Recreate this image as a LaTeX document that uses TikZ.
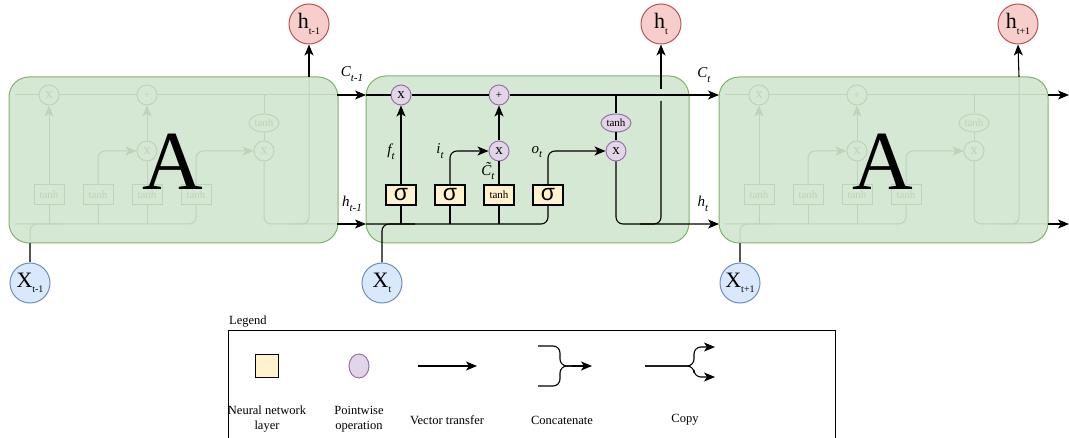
\documentclass[tikz,border=0pt]{standalone}
\usepackage{fontspec}
\setmainfont{Liberation Serif}
\newfontfamily\sigfont{Liberation Sans}
\usetikzlibrary{arrows.meta,shapes.geometric}
\definecolor{gfill}{HTML}{D5E8D4}
\definecolor{gdraw}{HTML}{82B366}
\definecolor{rfill}{HTML}{F8CECC}
\definecolor{rdraw}{HTML}{B85450}
\definecolor{bfill}{HTML}{DAE8FC}
\definecolor{bdraw}{HTML}{6C8EBF}
\definecolor{pfill}{HTML}{E1D5E7}
\definecolor{pdraw}{HTML}{9673A6}
\definecolor{yfill}{HTML}{FFF2CC}
\definecolor{faintc}{HTML}{BDD3BA}
\definecolor{darkg}{HTML}{555555}
\newcommand\fs[1]{\fontsize{#1}{#1}\selectfont}
\newcommand\bigsub[2]{#1\raisebox{-0.25em}{\fs{10}#2}}
\newcommand\lsub[2]{#1\raisebox{-0.3em}{\fs{11}#2}}
\tikzset{
  cellbox/.style={draw=gdraw, fill=gfill, rounded corners=20, line width=1},
  hcirc/.style={circle, draw=rdraw, fill=rfill, minimum size=40, inner sep=0, line width=1, font=\fs{22}},
  xcirc/.style={circle, draw=bdraw, fill=bfill, minimum size=40, inner sep=0, line width=1, font=\fs{22}},
  pw/.style={circle, draw=pdraw, fill=pfill, minimum size=20, inner sep=0, line width=1, font=\fs{15}},
  pwell/.style={ellipse, draw=pdraw, fill=pfill, minimum width=30, minimum height=18, inner sep=0, line width=1, font=\fs{11}},
  layer/.style={draw=black, fill=yfill, minimum width=30, minimum height=20, inner sep=0, line width=1.1},
  sig/.style={layer, font=\sigfont\fs{23}},
  tlayer/.style={layer, font=\fs{11}},
  flow/.style={line width=1.1, -{Stealth[length=11,width=9,inset=3]}},
  wire/.style={line width=1.1},
  fwire/.style={line width=1, draw=faintc},
  fflow/.style={fwire, -{Stealth[length=11,width=9,inset=3]}},
  fpw/.style={circle, draw=faintc, minimum size=20, inner sep=0, line width=1, text=faintc, font=\fs{15}},
  fell/.style={ellipse, draw=faintc, minimum width=30, minimum height=18, inner sep=0, line width=1, text=faintc, font=\fs{11}},
  flayer/.style={draw=faintc, minimum width=30, minimum height=20, inner sep=0, line width=1, text=faintc, font=\fs{11}},
  lbl/.style={font=\fs{15}\itshape, inner sep=0},
  leg/.style={font=\fs{12.5}, align=center, inner sep=0},
}
\newcommand\fadedcell[2]{%
\begin{scope}[shift={(#1,0)}]
  \draw[cellbox] (361,77) rectangle (690,243);
  \node[fpw] (#2fx) at (401,95) {x};
  \node[fpw, font=\fs{11}] (#2plus) at (499,95) {+};
  \node[flayer] (#2t1) at (401,195) {tanh};
  \node[flayer] (#2t2) at (450,195) {tanh};
  \node[flayer] (#2t3) at (499,195) {tanh};
  \node[flayer] (#2t4) at (548,195) {tanh};
  \node[fpw] (#2ix) at (499,151) {x};
  \node[fpw] (#2ox) at (616,151) {x};
  \node[fell] (#2th) at (616,123) {tanh};
  \coordinate (#2cin) at (367,95);
  \coordinate (#2cout) at (690,95);
  \coordinate (#2hin) at (367,224);
  \coordinate (#2hout) at (690,224);
  \coordinate (#2ctap) at (616,95);
  \coordinate (#2vtop) at (661,77);
  \coordinate (#2vbot) at (640,224);
  \coordinate (#2xbot) at (382,243);
  \coordinate (#2xjoin) at (415,224);
  \draw[fwire] (#2cin) -- (#2fx.west) (#2fx.east) -- (#2plus.west) (#2plus.east) -- (#2cout);
  \draw[fflow] (#2t1.north) -- (#2fx.south);
  \draw[fflow, rounded corners=7] (#2t2.north) |- (#2ix.west);
  \draw[fwire] (#2t3.north) -- (#2ix.south);
  \draw[fflow] (#2ix.north) -- (#2plus.south);
  \draw[fflow, rounded corners=7] (#2t4.north) |- (#2ox.west);
  \draw[fwire] (#2ctap) -- (#2th.north) (#2th.south) -- (#2ox.north);
  \draw[fwire, rounded corners=7] (#2ox.south) |- (#2hout);
  \draw[fwire, rounded corners=7] (#2vbot) -| (#2vtop);
  \draw[fwire, rounded corners=7] (#2hin) -| (#2t4.south);
  \draw[fwire] (#2t1.south) -- (401,224) (#2t2.south) -- (450,224) (#2t3.south) -- (499,224);
  \draw[fwire, rounded corners=7] (#2xbot) |- (#2xjoin);
  \node[font=\fs{84}, inner sep=0] (#2A) at (525,162) {A};
\end{scope}}
\begin{document}
\begin{tikzpicture}[x=1pt,y=-1pt]
\useasboundingbox (0,0) rectangle (1069,438);
% faded cells
\fadedcell{-352}{L}
\fadedcell{358}{R}
% middle cell
\draw[cellbox] (366,76) rectangle (689,243);
\node[pw] (fx) at (401,95) {x};
\node[pw, font=\fs{11}] (plus) at (499,95) {+};
\node[sig] (s1) at (401,195) {σ};
\node[sig] (s2) at (450,195) {σ};
\node[tlayer] (s3) at (499,195) {tanh};
\node[sig] (s4) at (548,195) {σ};
\node[pw] (ix) at (499,151) {x};
\node[pw] (ox) at (616,151) {x};
\node[pwell] (th) at (616,123) {tanh};
% outer nodes
\node[hcirc] (hL) at (309,24) {\bigsub{h}{t-1}};
\node[hcirc] (hM) at (661,24) {\bigsub{h}{t}};
\node[hcirc] (hR) at (1018,24) {\bigsub{h}{t+1}};
\node[xcirc] (xL) at (30,283) {\bigsub{X}{t-1}};
\node[xcirc] (xM) at (382,283) {\bigsub{X}{t}};
\node[xcirc] (xR) at (740,283) {\bigsub{X}{t+1}};
% coordinates
\coordinate (Lc) at (337,95);
\coordinate (Lh) at (337,224);
\coordinate (Mcin) at (366,95);
\coordinate (Mhin) at (366,224);
\coordinate (Mcout) at (719,95);
\coordinate (Mhout) at (719,224);
\coordinate (Rc) at (1048,95);
\coordinate (Rh) at (1048,224);
\coordinate (Rcend) at (1069,95);
\coordinate (Rhend) at (1069,224);
\coordinate (ctap) at (616,95);
\coordinate (vbot) at (640,224);
\coordinate (vlow) at (661,101);
\coordinate (vhigh) at (661,89);
\coordinate (xjoin) at (415,224);
% links between cells
\draw[flow] (Lc) -- (Mcin);
\draw[flow] (Lh) -- (Mhin);
\draw[flow] (Rc) -- (Rcend);
\draw[flow] (Rh) -- (Rhend);
\draw[flow] (Lvtop) -- (hL.south);
\draw[flow] (Rvtop) -- (hR.south);
\draw[wire, darkg] (xL.north) -- (Lxbot);
\draw[wire, darkg] (xR.north) -- (Rxbot);
% middle wiring
\draw[wire] (Mcin) -- (fx.west) (fx.east) -- (plus.west);
\draw[flow] (plus.east) -- (Mcout);
\draw[flow] (s1.north) -- (fx.south);
\draw[flow, rounded corners=7] (s2.north) |- (ix.west);
\draw[wire] (s3.north) -- (ix.south);
\draw[flow] (ix.north) -- (plus.south);
\draw[flow, rounded corners=7] (s4.north) |- (ox.west);
\draw[wire] (ctap) -- (th.north) (th.south) -- (ox.north);
\draw[flow, rounded corners=7] (ox.south) |- (Mhout);
\draw[wire, rounded corners=7] (vbot) -| (vlow);
\draw[flow] (vhigh) -- (hM.south);
\draw[wire, rounded corners=7] (Mhin) -| (s4.south);
\draw[wire] (s1.south) -- (401,224) (s2.south) -- (450,224) (s3.south) -- (499,224);
\draw[wire, rounded corners=7] (xM.north) |- (xjoin);
% labels
\node[lbl] (lCt1) at (352,74) {\lsub{C}{t-1}};
\node[lbl] (lht1) at (352,204) {\lsub{h}{t-1}};
\node[lbl] (lCt) at (704,75) {\lsub{C}{t}};
\node[lbl] (lht) at (703,204) {\lsub{h}{t}};
\node[lbl] (lf) at (391,152) {\lsub{f}{t}};
\node[lbl] (li) at (440,151) {\lsub{i}{t}};
\node[lbl] (lC) at (488,171) {\lsub{\~{C}}{t}};
\node[lbl] (lo) at (537,152) {\lsub{o}{t}};
% legend
\node[anchor=west, font=\fs{12.5}, inner sep=0] (legt) at (229,322) {Legend};
\draw[line width=1] (228,440) -- (228,331) -- (835,331) -- (835,440);
\node[layer, minimum width=23, minimum height=23] (lglayer) at (267,366) {};
\node[pwell, minimum width=20, minimum height=24] (lgpw) at (359,366) {};
\coordinate (va) at (418,366);
\coordinate (vb) at (477,366);
\draw[flow] (va) -- (vb);
\coordinate (ca) at (538,346);
\coordinate (cb) at (538,386);
\coordinate (cm) at (560,366);
\coordinate (cmr) at (572,366);
\coordinate (cend) at (592,366);
\draw[wire, rounded corners=7] (ca) -| (cm) -- (cmr);
\draw[wire, rounded corners=7] (cb) -| (cm) -- (cmr);
\draw[flow] (cmr) -- (cend);
\coordinate (pa) at (645,366);
\coordinate (pu) at (715,347);
\coordinate (pd) at (715,377);
\draw[flow, rounded corners=7] (pa) -| (694,347) -- (pu);
\draw[flow, rounded corners=7] (pa) -| (694,377) -- (pd);
\node[leg] (t1) at (267,419) {Neural network\\[3pt]layer};
\node[leg] (t2) at (359,419) {Pointwise\\[3pt]operation};
\node[leg] (t3) at (447,420) {Vector transfer};
\node[leg] (t4) at (562,420) {Concatenate};
\node[leg] (t5) at (685,420) {Copy};
\end{tikzpicture}
\end{document}
